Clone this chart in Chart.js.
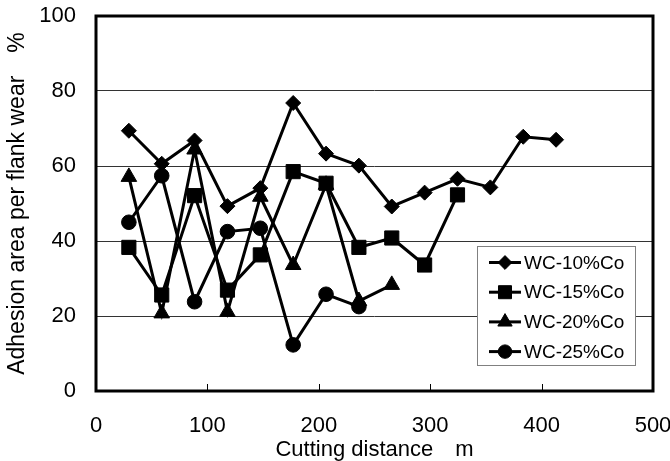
<!DOCTYPE html>
<html>
<head>
<meta charset="utf-8">
<script src="https://cdn.jsdelivr.net/npm/chart.js@4/dist/chart.umd.min.js"></script>
<style>
  html, body { margin: 0; padding: 0; background: #fff; }
  #wrap { width: 670px; height: 461px; }
</style>
</head>
<body>
<div id="wrap"><canvas id="c" width="670" height="461"></canvas></div>
<script>
// ---- data ----
const distances = [29.5, 59, 88.5, 118, 147.5, 177, 206.5, 236, 265.5, 295, 324.5, 354, 383.5, 413];
const seriesNames = ['WC-10%Co', 'WC-15%Co', 'WC-20%Co', 'WC-25%Co'];
const wc10 = [69.4, 60.6, 66.8, 49.3, 54.1, 76.8, 63.3, 60.1, 49.2, 52.9, 56.6, 54.3, 67.8, 67.0];
const wc15 = [38.3, 25.6, 52.1, 26.9, 36.3, 58.5, 55.4, 38.3, 40.8, 33.6, 52.3];
const wc20 = [57.1, 20.7, 64.4, 21.1, 51.8, 33.6, 55.0, 24.0, 28.3];
const wc25 = [45.0, 57.4, 23.8, 42.5, 43.4, 12.3, 25.8, 22.5];
const xTicks = [0, 100, 200, 300, 400, 500];
const yTicks = [0, 20, 40, 60, 80, 100];
const xTitle = 'Cutting distance\u3000m';
const yTitle = 'Adhesion area per flank wear\u3000%';

const styles = [
  { pointStyle: 'rectRot', radius: 7.5 },
  { pointStyle: 'rect', radius: 10 },
  { pointStyle: 'triangle', radius: 9 },
  { pointStyle: 'circle', radius: 7.3 }
];
const allValues = [wc10, wc15, wc20, wc25];

const datasets = allValues.map((vals, i) => ({
  label: seriesNames[i],
  data: vals.map((v, k) => ({ x: distances[k], y: v })),
  borderColor: '#000',
  backgroundColor: '#000',
  borderWidth: 3,
  pointStyle: styles[i].pointStyle,
  pointRadius: styles[i].radius,
  pointHoverRadius: styles[i].radius,
  pointBackgroundColor: '#000',
  pointBorderColor: '#000',
  pointBorderWidth: 1,
  tension: 0,
  fill: false
}));

const TICK_FONT = { family: '"Liberation Sans", Arial, sans-serif', size: 22 };
const X_TITLE_FONT = { family: '"Liberation Sans", Arial, "Noto Sans CJK JP", sans-serif', size: 22 };
const Y_TITLE_FONT = { family: '"Liberation Sans", Arial, "Noto Sans CJK JP", sans-serif', size: 23 };
const LEGEND_FONT = '19px "Liberation Sans", Arial, sans-serif';

const framePlugin = {
  id: 'frame',
  beforeDatasetsDraw(chart) {
    const { ctx, chartArea: a, scales } = chart;
    ctx.save();
    ctx.strokeStyle = '#000';
    ctx.lineWidth = 1;
    xTicks.forEach(v => {
      const px = Math.round(scales.x.getPixelForValue(v)) + 0.5;
      ctx.beginPath();
      ctx.moveTo(px, a.bottom);
      ctx.lineTo(px, a.bottom - 7);
      ctx.stroke();
    });
    ctx.lineWidth = 3;
    ctx.strokeRect(a.left, a.top, a.right - a.left, a.bottom - a.top);
    ctx.restore();
  },
  afterDraw(chart) {
    const { ctx, chartArea: a } = chart;
    const w = 158, h = 119;
    const bx = a.right - 18 - w;
    const by = a.bottom - 26 - h;
    ctx.save();
    ctx.fillStyle = '#fff';
    ctx.fillRect(bx, by, w, h);
    ctx.strokeStyle = '#808080';
    ctx.lineWidth = 1;
    ctx.strokeRect(bx + 0.5, by + 0.5, w, h);
    chart.data.datasets.forEach((ds, i) => {
      const cy = by + 16.5 + i * 29.7;
      ctx.strokeStyle = '#000';
      ctx.lineWidth = 3;
      ctx.beginPath();
      ctx.moveTo(bx + 12, cy);
      ctx.lineTo(bx + 44, cy);
      ctx.stroke();
      ctx.fillStyle = '#000';
      ctx.lineWidth = 1;
      Chart.helpers.drawPoint(ctx, {
        pointStyle: ds.pointStyle,
        radius: ds.pointRadius * 0.92,
        rotation: 0,
        borderWidth: 1
      }, bx + 28, cy);
      ctx.fillStyle = '#000';
      ctx.font = LEGEND_FONT;
      ctx.textBaseline = 'middle';
      ctx.textAlign = 'left';
      ctx.fillText(ds.label, bx + 47, cy + 1);
    });
    ctx.restore();
  }
};

new Chart(document.getElementById('c'), {
  type: 'line',
  data: { datasets },
  plugins: [framePlugin],
  options: {
    responsive: false,
    animation: false,
    events: [],
    layout: { padding: { left: 0, top: 16, right: 17, bottom: 0 } },
    plugins: { legend: { display: false }, tooltip: { enabled: false } },
    scales: {
      x: {
        type: 'linear',
        min: 0, max: 500,
        afterBuildTicks: s => { s.ticks = xTicks.map(v => ({ value: v })); },
        afterFit: s => { s.height = 70; s.paddingLeft = 0; s.paddingRight = 0; },
        grid: { display: false, drawTicks: false },
        border: { display: false },
        ticks: { color: '#000', font: TICK_FONT, padding: 22, maxRotation: 0 },
        title: { display: true, text: xTitle, color: '#000', font: X_TITLE_FONT, padding: { top: 0, bottom: -2 } }
      },
      y: {
        type: 'linear',
        min: 0, max: 100,
        afterBuildTicks: s => { s.ticks = yTicks.map(v => ({ value: v })); },
        afterFit: s => { s.width = 96; s.paddingTop = 0; s.paddingBottom = 0; },
        grid: { color: '#333', lineWidth: 1, drawTicks: false },
        border: { display: false },
        ticks: { color: '#000', font: TICK_FONT, padding: 20 },
        title: { display: true, text: yTitle, color: '#000', font: Y_TITLE_FONT, padding: { top: 4, bottom: 0 } }
      }
    }
  }
});
</script>
</body>
</html>
